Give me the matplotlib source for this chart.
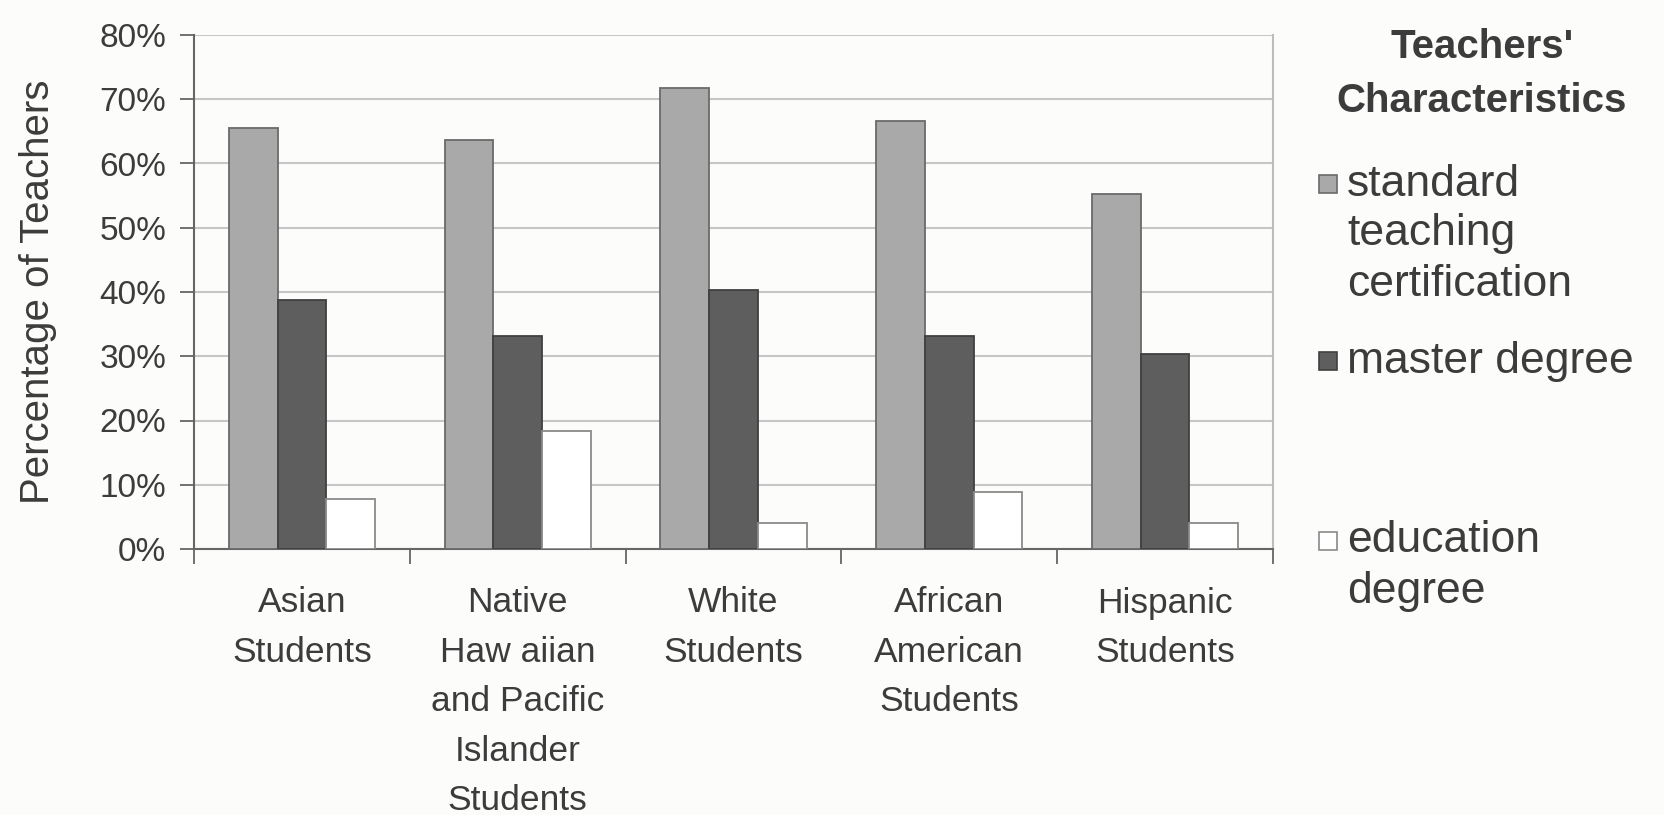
import numpy as np
import matplotlib.pyplot as plt
from matplotlib.patches import Rectangle
from matplotlib.ticker import PercentFormatter

plt.rcParams["font.family"] = ["Liberation Sans", "DejaVu Sans"]

groups = ["Asian\nStudents",
          "Native\nHaw aiian\nand Pacific\nIslander\nStudents",
          "White\nStudents",
          "African\nAmerican\nStudents",
          "Hispanic\nStudents"]
series = ["standard\nteaching\ncertification", "master degree", "education\ndegree"]
certification = [65.6, 63.6, 71.7, 66.6, 55.2]
master = [38.8, 33.1, 40.3, 33.1, 30.4]
education = [7.8, 18.3, 4.1, 8.9, 4.1]

fills = ["#a9a9a9", "#5e5e5e", "#ffffff"]
edges = ["#6a6a6a", "#404040", "#8a8a8a"]
txt = "#3c3c3c"

W, H = 1664, 815
fig = plt.figure(figsize=(W / 100, H / 100), dpi=100, facecolor="#fcfcfb")
ax = fig.add_axes([194 / W, 1 - 549 / H, (1273 - 194) / W, (549 - 35) / H])
ax.set_facecolor("#fcfcfb")

x = np.arange(len(groups))
w = 0.226
for k, vals in enumerate([certification, master, education]):
    ax.bar(x + (k - 1) * w, vals, width=w, color=fills[k], edgecolor=edges[k],
           linewidth=1.3, zorder=3)

ax.set_xlim(-0.5, len(groups) - 0.5)
ax.set_ylim(0, 80)
ax.set_yticks(np.arange(0, 81, 10))
ax.yaxis.set_major_formatter(PercentFormatter(decimals=0))
ax.grid(True, axis="y", color="#c6c6c6", lw=1.5, zorder=0)

# category labels at the group centres, tick marks on the boundaries
ax.set_xticks(x)
ax.set_xticklabels(groups, linespacing=1.63)
ax.set_xticks(np.arange(len(groups) + 1) - 0.5, minor=True)
ax.tick_params(axis="x", which="major", length=0, pad=27, labelsize=25.5, labelcolor=txt)
ax.tick_params(axis="x", which="minor", length=11, width=1.3, color="#666666")
ax.tick_params(axis="y", length=10, width=1.3, color="#666666", pad=10,
               labelsize=24, labelcolor=txt)

for s in ["left", "bottom"]:
    ax.spines[s].set_color("#666666")
    ax.spines[s].set_linewidth(1.5)
ax.spines["right"].set_color("#bdbdbd")
ax.spines["right"].set_linewidth(1.5)
ax.spines["top"].set_visible(False)

ax.set_ylabel("Percentage of Teachers", fontsize=29, color=txt, va="center")
ax.yaxis.set_label_coords((38 - 194) / (1273 - 194), 0.5)

# legend laid out by hand on the right
fig.text(1482 / W, 1 - 74 / H, "Teachers'\nCharacteristics", ha="center", va="center",
         fontsize=29, fontweight="bold", color=txt, linespacing=1.5)
first_line = [184, 361, 541]
for k, label in enumerate(series):
    y0 = first_line[k]
    fig.add_artist(Rectangle(((1328 - 9) / W, 1 - (y0 + 9) / H), 18 / W, 18 / H,
                             transform=fig.transFigure, facecolor=fills[k],
                             edgecolor=edges[k], lw=1.2))
    for j, line in enumerate(label.split("\n")):
        fig.text(1347 / W, 1 - (y0 + 50 * j) / H, line, ha="left", va="center",
                 fontsize=32, color=txt)

fig.savefig("out.png", dpi=100, facecolor=fig.get_facecolor())
